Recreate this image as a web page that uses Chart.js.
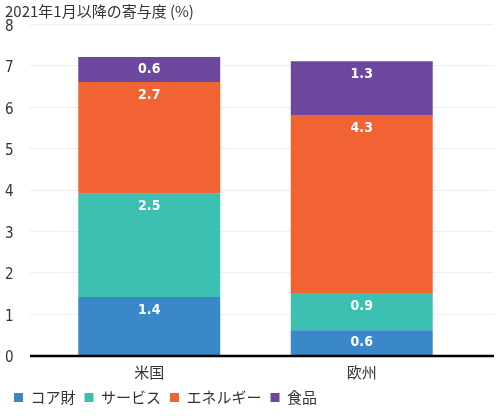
<!DOCTYPE html>
<html>
<head>
<meta charset="utf-8">
<script src="https://cdn.jsdelivr.net/npm/chart.js@4"></script>
<style>
    html, body { margin: 0; padding: 0; background: #fff; }
    #wrap { width: 500px; height: 416px; position: relative; }
</style>
</head>
<body>
<div id="wrap"><canvas id="contrib-chart"></canvas></div>
<script>
// ============================================
// DATA
// ============================================
const regions = ['米国', '欧州'];
const seriesNames = ['コア財', 'サービス', 'エネルギー', '食品'];
const coreGoods = [1.4, 0.6];
const services = [2.5, 0.9];
const energy = [2.7, 4.3];
const food = [0.6, 1.3];
const yTicks = [0, 1, 2, 3, 4, 5, 6, 7, 8];

const chartColors = {
    blue: '#3a88c9',
    teal: '#3dbfb2',
    orange: '#f26334',
    purple: '#6b479d',
    text: '#333333',
    grid: '#eeeeee',
};

const jpFont = "'Noto Sans CJK JP', 'Noto Sans', sans-serif";
const numFont = "'Liberation Sans Narrow', 'DejaVu Sans Condensed', 'Noto Sans', sans-serif";

// light grid + thick baseline, drawn a bit wider than the bar area
const guideLines = {
    id: 'guideLines',
    beforeDatasetsDraw(chart) {
        const { ctx, chartArea, scales } = chart;
        const left = chartArea.left - 13;
        const right = chartArea.right + 26;
        ctx.save();
        ctx.strokeStyle = chartColors.grid;
        ctx.lineWidth = 1;
        yTicks.slice(1).forEach((v) => {
            const y = Math.round(scales.y.getPixelForValue(v)) + 0.5;
            ctx.beginPath();
            ctx.moveTo(left, y);
            ctx.lineTo(right, y);
            ctx.stroke();
        });
        ctx.restore();
    },
    afterDatasetsDraw(chart) {
        const { ctx, chartArea, scales } = chart;
        const y = scales.y.getPixelForValue(0) + 1;
        ctx.save();
        ctx.strokeStyle = '#000';
        ctx.lineWidth = 2.5;
        ctx.beginPath();
        ctx.moveTo(chartArea.left - 13, y);
        ctx.lineTo(chartArea.right + 26, y);
        ctx.stroke();
        ctx.restore();
    },
};

// value labels near the top of each segment
const segmentLabels = {
    id: 'segmentLabels',
    afterDatasetsDraw(chart) {
        const { ctx } = chart;
        ctx.save();
        ctx.fillStyle = '#fff';
        ctx.font = 'bold 14px ' + numFont;
        ctx.textAlign = 'center';
        ctx.textBaseline = 'middle';
        chart.data.datasets.forEach((ds, i) => {
            chart.getDatasetMeta(i).data.forEach((bar, j) => {
                const h = bar.base - bar.y;
                const y = h < 30 ? (bar.y + bar.base) / 2 : bar.y + 13;
                ctx.fillText(ds.data[j].toFixed(1), bar.x, y);
            });
        });
        ctx.restore();
    },
};

function createContribChart() {
    const ctx = document.getElementById('contrib-chart');
    if (!ctx) return;

    const values = [coreGoods, services, energy, food];
    const colors = [chartColors.blue, chartColors.teal, chartColors.orange, chartColors.purple];

    new Chart(ctx, {
        type: 'bar',
        data: {
            labels: regions,
            datasets: seriesNames.map((name, i) => ({
                label: name,
                data: values[i],
                backgroundColor: colors[i],
                borderWidth: 0,
                categoryPercentage: 1,
                barPercentage: 0.668,
            })),
        },
        plugins: [guideLines, segmentLabels],
        options: {
            responsive: true,
            maintainAspectRatio: false,
            animation: false,
            layout: {
                padding: { left: 5, right: 32, top: 0, bottom: 1 },
            },
            plugins: {
                title: {
                    display: true,
                    text: '2021年1月以降の寄与度 (%)',
                    align: 'start',
                    color: chartColors.text,
                    font: { family: jpFont, size: 15, weight: 'normal' },
                    padding: { top: 2, bottom: 4 },
                },
                legend: {
                    position: 'bottom',
                    align: 'start',
                    labels: {
                        boxWidth: 9,
                        boxHeight: 9,
                        padding: 9,
                        color: chartColors.text,
                        font: { family: jpFont, size: 15 },
                    },
                },
                tooltip: { enabled: false },
            },
            scales: {
                x: {
                    stacked: true,
                    grid: { display: false },
                    border: { display: false },
                    ticks: {
                        color: chartColors.text,
                        padding: 0,
                        font: { family: jpFont, size: 15 },
                    },
                },
                y: {
                    stacked: true,
                    min: 0,
                    max: 8,
                    afterFit: (scale) => { scale.width = 38; },
                    afterBuildTicks: (scale) => {
                        scale.ticks = yTicks.map((v) => ({ value: v }));
                    },
                    grid: { display: false },
                    border: { display: false },
                    ticks: {
                        color: chartColors.text,
                        crossAlign: 'far',
                        labelOffset: 3,
                        font: { family: numFont, size: 15 },
                    },
                },
            },
        },
    });
}

document.addEventListener('DOMContentLoaded', function () {
    createContribChart();
});
</script>
</body>
</html>
